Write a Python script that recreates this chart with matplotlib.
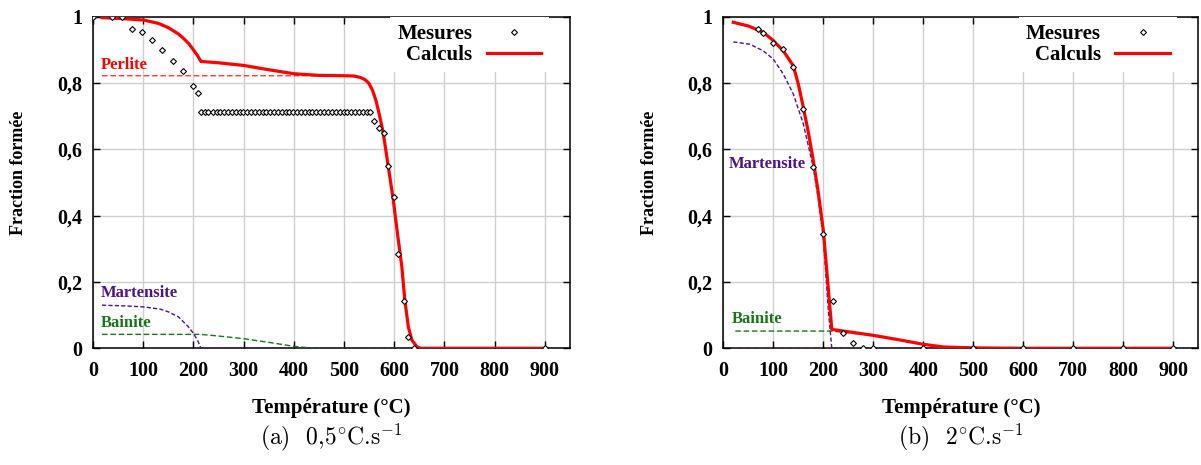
import matplotlib
matplotlib.use("Agg")
import matplotlib.pyplot as plt

plt.rcParams['font.family'] = ['Liberation Serif', 'DejaVu Serif']
plt.rcParams['font.weight'] = 'bold'
plt.rcParams['mathtext.fontset'] = 'cm'

## (a) 0,5 C/s : measured points
mes_a_T = [0, 38, 58, 78, 98, 118, 138, 160, 180, 200, 210,
           215, 223, 230, 238, 246, 253, 261, 269, 276, 284, 292, 299, 307, 315,
           322, 330, 338, 345, 353, 361, 368, 376, 384, 391, 399, 407, 414, 422,
           430, 437, 445, 453, 460, 468, 476, 483, 491, 499, 506, 514, 522, 529,
           537, 545, 552,
           559, 569, 579, 588, 599, 608, 619, 628, 639, 900]
mes_a_y = [1.0, 1.0, 0.998, 0.963, 0.955, 0.93, 0.9, 0.867, 0.836, 0.79, 0.77,
           0.714, 0.714, 0.714, 0.714, 0.714, 0.714, 0.714, 0.714, 0.714, 0.714,
           0.714, 0.714, 0.714, 0.714, 0.714, 0.714, 0.714, 0.714, 0.714, 0.714,
           0.714, 0.714, 0.714, 0.714, 0.714, 0.714, 0.714, 0.714, 0.714, 0.714,
           0.714, 0.714, 0.714, 0.714, 0.714, 0.714, 0.714, 0.714, 0.714, 0.714,
           0.714, 0.714, 0.714, 0.714, 0.714,
           0.685, 0.665, 0.65, 0.549, 0.455, 0.285, 0.144, 0.035, 0.0, 0.0]

# (a) calculated total and phases
calc_a_T = [18, 50, 100, 130, 150, 170, 180, 190, 200, 208, 215, 250, 300, 350,
            400, 450, 500, 520, 532, 542, 550, 557, 564, 571, 578, 588, 598,
            608, 615, 621, 628, 635, 645, 652, 900]
calc_a_y = [0.997, 0.995, 0.99, 0.98, 0.967, 0.948, 0.935, 0.92, 0.9, 0.883,
            0.865, 0.861, 0.853, 0.84, 0.828, 0.823, 0.822, 0.821, 0.817,
            0.81, 0.798, 0.777, 0.745, 0.7, 0.65, 0.549, 0.448, 0.327, 0.247,
            0.146, 0.065, 0.025, 0.005, 0.0, 0.0]
perl_a_T = [18, 500, 520, 532, 542, 550, 557, 564, 571, 578, 588, 598, 608,
            615, 621, 628, 635, 645, 652, 900]
perl_a_y = [0.822, 0.822, 0.821, 0.817, 0.81, 0.798, 0.777, 0.745, 0.7, 0.65,
            0.549, 0.448, 0.327, 0.247, 0.146, 0.065, 0.025, 0.005, 0.0, 0.0]
mart_a_T = [18, 60, 100, 134, 150, 170, 180, 190, 200, 208, 215, 900]
mart_a_y = [0.13, 0.128, 0.125, 0.118, 0.11, 0.095, 0.08, 0.065, 0.045, 0.025,
            0.0, 0.0]
bain_a_T = [18, 215, 250, 300, 350, 400, 440, 900]
bain_a_y = [0.042, 0.042, 0.037, 0.029, 0.018, 0.006, 0.0, 0.0]

## (b) 2 C/s
mes_b_T = [70, 80, 100, 120, 140, 160, 180, 200, 220, 240, 260, 280, 300,
           400, 500, 600, 700, 800, 900]
mes_b_y = [0.962, 0.952, 0.922, 0.902, 0.847, 0.722, 0.546, 0.344, 0.143,
           0.045, 0.015, 0.0, 0.0, 0.0, 0.0, 0.0, 0.0, 0.0, 0.0]

calc_b_T = [20, 50, 80, 100, 120, 140, 150, 160, 170, 180, 190, 200, 217, 240,
            300, 350, 400, 440, 480, 520, 600, 900]
calc_b_y = [0.983, 0.972, 0.953, 0.928, 0.897, 0.852, 0.797, 0.727, 0.652,
            0.566, 0.47, 0.356, 0.057, 0.052, 0.039, 0.026, 0.012, 0.004,
            0.002, 0.001, 0.0, 0.0]
perl_b_T = [20, 900]
perl_b_y = [0.0, 0.0]
mart_b_T = [20, 53, 80, 100, 120, 140, 160, 180, 190, 200, 210, 217, 900]
mart_b_y = [0.924, 0.917, 0.897, 0.872, 0.827, 0.767, 0.677, 0.546, 0.45,
            0.336, 0.115, 0.0, 0.0]
bain_b_T = [24, 217, 240, 300, 350, 400, 440, 500, 900]
bain_b_y = [0.052, 0.052, 0.048, 0.039, 0.026, 0.012, 0.004, 0.0, 0.0]

xticks = [0, 100, 200, 300, 400, 500, 600, 700, 800, 900]
yticks = [0, 0.2, 0.4, 0.6, 0.8, 1]
ytick_labels = ['0', '0,2', '0,4', '0,6', '0,8', '1']

c_perl = '#ff3a3a'
c_mart = '#4b1390'
c_bain = '#187518'

W, H = 1201, 465
fig = plt.figure(figsize=(W / 100, H / 100), dpi=100)
ax1 = fig.add_axes([93 / W, 1 - 348.3 / H, 477 / W, 331.6 / H])
ax2 = fig.add_axes([723.3 / W, 1 - 348.3 / H, 475 / W, 331.6 / H])


def draw(ax, mT, my, cT, cy, pT, py, mrT, mry, bT, by):
    ax.plot(pT, py, color=c_perl, lw=1, dashes=(4, 2), zorder=3)
    ax.plot(bT, by, color=c_bain, lw=1, dashes=(4, 2), zorder=3)
    ax.plot(mrT, mry, color=c_mart, lw=1, dashes=(3, 1.6), zorder=3)
    ax.plot(mT, my, ls='none', marker='D', ms=3.0, mfc='white', mec='black',
            mew=0.8, label='Mesures', zorder=5)
    ax.plot(cT, cy, color='red', lw=2.3, label='Calculs', zorder=4)
    ax.set_xlim(0, 950)
    ax.set_ylim(0, 1)
    ax.set_xticks(xticks)
    ax.set_yticks(yticks)
    ax.set_yticklabels(ytick_labels)
    ax.tick_params(direction='in', length=5, width=1, top=True, right=True,
                   labelsize=14.5)
    ax.tick_params(axis='x', pad=9)
    ax.tick_params(axis='y', pad=8)
    ax.grid(True, color='#cfcfcf', lw=1)
    ax.set_axisbelow(True)
    for s in ax.spines.values():
        s.set_linewidth(1.1)
    ax.set_xlabel('Température (°C)', fontsize=15, fontweight='bold')
    ax.xaxis.set_label_coords(0.5, -0.15)
    ax.set_ylabel('Fraction formée', fontsize=13, fontweight='bold')
    ax.yaxis.set_label_coords(-0.138, 0.53)
    leg = ax.legend(loc='upper right', bbox_to_anchor=(0.955, 1.0),
                    markerfirst=False, numpoints=1, fontsize=15,
                    frameon=True, fancybox=False, framealpha=1,
                    facecolor='white', edgecolor='none', borderpad=0.35,
                    borderaxespad=0, handlelength=2.6, handletextpad=0.7,
                    labelspacing=0.05)
    leg.set_zorder(6)


draw(ax1, mes_a_T, mes_a_y, calc_a_T, calc_a_y, perl_a_T, perl_a_y,
     mart_a_T, mart_a_y, bain_a_T, bain_a_y)
draw(ax2, mes_b_T, mes_b_y, calc_b_T, calc_b_y, perl_b_T, perl_b_y,
     mart_b_T, mart_b_y, bain_b_T, bain_b_y)

# phase labels
ax1.text(16, 0.855, 'Perlite', color='red', fontsize=12, fontweight='bold',
         va='center')
ax1.text(16, 0.168, 'Martensite', color=c_mart, fontsize=12, fontweight='bold',
         va='center')
ax1.text(16, 0.077, 'Bainite', color=c_bain, fontsize=12, fontweight='bold',
         va='center')
ax2.text(10, 0.555, 'Martensite', color=c_mart, fontsize=12, fontweight='bold',
         va='center')
ax2.text(16, 0.087, 'Bainite', color=c_bain, fontsize=12, fontweight='bold',
         va='center')

# sub-captions (Computer Modern look)
fig.text(331.5 / W, 1 - 437 / H, r'(a)  0,5$^{\circ}$C.s$^{-1}$',
         family='cmr10', fontweight='normal', ha='center', va='center',
         fontsize=17)
fig.text(960.8 / W, 1 - 437 / H, r'(b)  2$^{\circ}$C.s$^{-1}$',
         family='cmr10', fontweight='normal', ha='center', va='center',
         fontsize=17)

fig.savefig('out.png', dpi=100)
